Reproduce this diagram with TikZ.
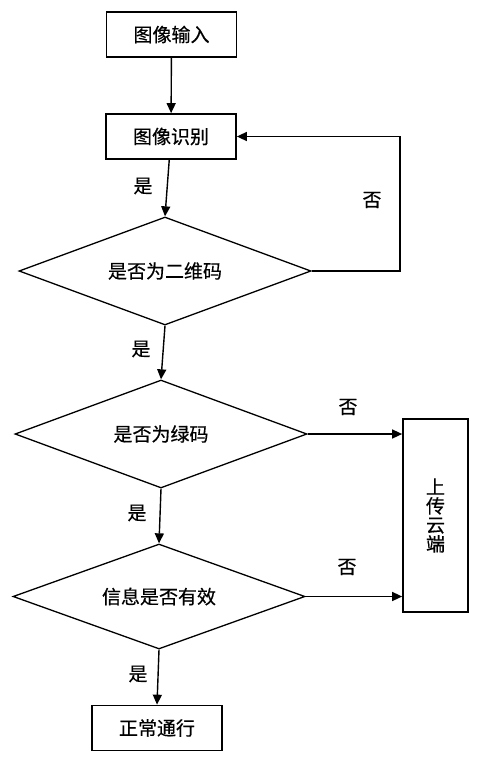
\documentclass[tikz,border=0pt]{standalone}
\usepackage{fontspec}
\newfontfamily\cjk[FakeBold=0.5]{Noto Sans CJK SC}
\usetikzlibrary{shapes.geometric,arrows.meta}
\tikzset{
  every picture/.style = {
    x=1pt, y=-1pt,
    font=\cjk\fontsize{19}{19}\selectfont
  }
}
\tikzset{
  stepbox/.style={
    draw,
    line width=1.7pt,
    minimum width=130pt,
    minimum height=45pt,
    inner sep=0pt
  },
  judge/.style={
    draw,
    shape=diamond,
    aspect=2.7,
    line width=1.3pt,
    minimum width=292pt,
    minimum height=108pt,
    inner sep=0pt
  },
  flow/.style={
    line width=1.4pt,
    -{Triangle[length=10pt,width=9pt]}
  }
}
\begin{document}
\begin{tikzpicture}
    \useasboundingbox (0,0) rectangle (485,757);
    % steps
    \node[stepbox] (input) at (171.5,34.5) {图像输入};
    \node[stepbox] (recog) at (171,136.5) {图像识别};
    \node[judge] (qrcode) at (165,271) {是否为二维码};
    \node[judge] (green) at (161,434) {是否为绿码};
    \node[judge, minimum height=105pt] (valid) at (159,596.5) {信息是否有效};
    \node[stepbox] (pass) at (157,728) {正常通行};
    \node[stepbox, minimum width=65pt, minimum height=193pt, align=center] (cloud) at (435.5,515.5) {上\\传\\云\\端};
    % labels
    \node (yesA) at (143,186) {是};
    \node (noA) at (372,200) {否};
    \node (yesB) at (141,349) {是};
    \node (noB) at (348,407) {否};
    \node (yesC) at (137,513) {是};
    \node (noC) at (347,567) {否};
    \node (yesD) at (138,674) {是};
    % arrows
    \coordinate (loop) at (400,271);
    \draw[flow] (input) -- (recog);
    \draw[flow] (recog) -- (qrcode.north);
    \draw[flow] (qrcode.east) -- (loop) |- (recog.east);
    \draw[flow] (qrcode.south) -- (green.north);
    \draw[flow] (green.east) -- (green.east -| cloud.west);
    \draw[flow] (green.south) -- (valid.north);
    \draw[flow] (valid.east) -- (valid.east -| cloud.west);
    \draw[flow] (valid.south) -- (pass.north);
\end{tikzpicture}
\end{document}
